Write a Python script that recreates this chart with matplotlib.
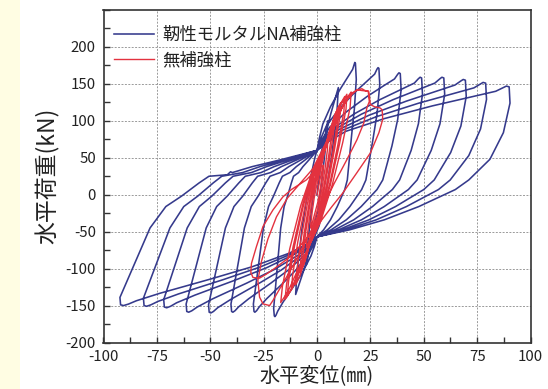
import matplotlib
matplotlib.use('Agg')
import matplotlib.pyplot as plt
from matplotlib.patches import Rectangle
from matplotlib.ticker import MultipleLocator, FixedLocator

plt.rcParams['font.family'] = ['Noto Sans CJK JP', 'DejaVu Sans']
plt.rcParams['axes.unicode_minus'] = False

# ---- data ----
series_names = ['靭性モルタルNA補強柱', '無補強柱']
x_label = '水平変位(㎜)'
y_label = '水平荷重(kN)'
x_ticks = [-100, -75, -50, -25, 0, 25, 50, 75, 100]
y_ticks = [-200, -150, -100, -50, 0, 50, 100, 150, 200]

# reinforced column (blue) – displacement (mm)
blue_x = [
    0, 2, 5, 4.3, 2.5, 0.5, -2, -5, -4.3, -2.5, -0.5,
    3, 6.5, 10, 9.4, 7, 4, 1, -3, -6.5, -10, -9.4, -7, -4, -1, 0,
    # cycle 18 mm
    1.1, 2.7, 6.3, 10.8, 14.4, 16.7, 17.5, 17.7, 18,
    18.4, 17.5, 16.2, 14.2, 13, 9.5, 6.3, 3.1, 0,
    -1.2, -2.8, -6.6, -10.8, -16, -18.4, -19.2, -19.7, -20,
    -20.3, -17, -15.4, -13.8, -12, -11, -8.6, -6.6, -3.8, -1.7, 0,
    # cycle 29 mm
    1.7, 4.4, 10.2, 17.4, 23.2, 27, 28.1, 28.6, 29,
    29.4, 28.1, 26.1, 22.9, 20.9, 15.4, 10.2, 4.9, 0,
    -1.8, -4.1, -9.7, -15.9, -23.6, -27.1, -28.3, -29.1, -29.5,
    -29.8, -25.1, -22.7, -20.4, -17.7, -16.2, -12.7, -9.7, -5.6, -2.6, 0,
    # cycle 39 mm
    2.3, 5.9, 13.7, 23.4, 31.2, 36.3, 37.8, 38.4, 39,
    39.4, 37.8, 35.1, 30.8, 28.1, 20.7, 13.7, 6.6, 0,
    -2.4, -5.6, -13.2, -21.6, -32, -36.8, -38.4, -39.4, -40,
    -40.3, -34, -30.8, -27.6, -24, -22, -17.2, -13.2, -7.6, -3.5, 0,
    # cycle 49 mm
    2.9, 7.4, 17.2, 29.4, 39.2, 45.6, 47.5, 48.3, 49,
    49.4, 47.5, 44.1, 38.7, 35.3, 26, 17.2, 8.3, 0,
    -3, -7.1, -16.7, -27.3, -40.4, -46.5, -48.5, -49.7, -50.5,
    -50.8, -42.9, -38.9, -34.8, -30.3, -27.8, -21.7, -16.7, -9.6, -4.4, 0,
    # cycle 59 mm
    3.6, 8.9, 20.8, 35.6, 47.5, 55.2, 57.6, 58.5, 59.4,
    59.8, 57.6, 53.5, 46.9, 42.8, 31.5, 20.8, 10.1, 0,
    -3.7, -8.5, -20.1, -32.9, -48.8, -56.1, -58.6, -60.1, -61,
    -61.3, -51.9, -47, -42.1, -36.6, -33.6, -26.2, -20.1, -11.6, -5.3, 0,
    # cycle 70 mm
    4.2, 10.4, 24.3, 41.7, 55.6, 64.6, 67.4, 68.5, 69.5,
    69.9, 67.4, 62.6, 54.9, 50, 36.8, 24.3, 11.8, 0,
    -4.3, -10, -23.6, -38.6, -57.2, -65.8, -68.6, -70.4, -71.5,
    -71.8, -60.8, -55.1, -49.3, -42.9, -39.3, -30.7, -23.6, -13.6, -6.2, 0,
    # cycle 79 mm
    4.7, 11.9, 27.7, 47.4, 63.2, 73.5, 76.6, 77.8, 79,
    79.4, 76.6, 71.1, 62.4, 56.9, 41.9, 27.7, 13.4, 0,
    -4.9, -11.3, -26.7, -43.7, -64.8, -74.5, -77.8, -79.8, -81,
    -81.3, -68.9, -62.4, -55.9, -48.6, -44.6, -34.8, -26.7, -15.4, -7, 0,
    # cycle 90 mm
    5.4, 13.5, 31.5, 54, 72, 83.7, 87.3, 88.7, 90,
    90.4, 87.3, 81, 71.1, 64.8, 47.7, 31.5, 15.3, 0,
    -5.5, -12.9, -30.4, -49.7, -73.6, -84.6, -88.3, -90.6, -92,
    -92.3, -78.2, -70.8, -63.5, -55.2, -50.6, -42, -40.5, -39.6, -30.4, -17.5, -8, 0,
]
# reinforced column (blue) – load (kN)
blue_y = [
    0, 45, 100, 72, 25, -20, -48, -95, -65, -18, 25,
    70, 110, 145, 115, 55, 0, -42, -70, -105, -135, -105, -45, 10, 50, 60,
    # cycle 18 mm
    76.5, 95.4, 119, 142.6, 159.1, 169.7, 177, 179, 178,
    156, 116, 80, 20, 7, -16, -34, -47.5, -57,
    -69.8, -82.7, -104.1, -123.3, -145.8, -157.6, -163, -165, -164,
    -154, -45, -16, -2, 16, 25, 30, 38, 47, 54, 60,
    # cycle 29 mm
    75.5, 93.3, 115.5, 137.7, 153.2, 163.2, 170, 172, 171,
    149, 109, 73, 20, 7, -16, -34, -47.5, -57,
    -69.1, -81.2, -101.4, -119.6, -140.8, -152, -157, -159, -158,
    -148, -45, -16, -2, 16, 25, 30, 38, 47, 54, 60,
    # cycle 39 mm
    74.6, 91.2, 112, 132.8, 147.4, 156.7, 163, 165, 164,
    142, 102, 66, 20, 7, -16, -34, -47.5, -57,
    -69.1, -81.2, -101.4, -119.6, -140.8, -152, -157, -159, -158,
    -148, -45, -16, -2, 16, 25, 30, 38, 47, 54, 60,
    # cycle 49 mm
    73.7, 89.4, 109, 128.6, 142.3, 151.1, 157, 159, 158,
    136, 96, 60, 20, 7, -16, -34, -47.5, -57,
    -69.2, -81.5, -101.9, -120.2, -141.7, -152.9, -158, -160, -159,
    -149, -45, -16, -2, 16, 25, 30, 38, 47, 54, 60,
    # cycle 59 mm
    73.7, 89.4, 109, 128.6, 142.3, 151.1, 157, 159, 158,
    136, 96, 60, 20, 7, -16, -34, -47.5, -57,
    -69.1, -81.2, -101.4, -119.6, -140.8, -152, -157, -159, -158,
    -148, -45, -16, -2, 16, 25, 30, 38, 47, 54, 60,
    # cycle 70 mm
    73.3, 88.5, 107.5, 126.5, 139.8, 148.4, 154, 156, 155,
    133, 93, 57, 20, 7, -16, -34, -47.5, -57,
    -68.4, -79.8, -98.8, -115.9, -135.9, -146.3, -151, -153, -152,
    -142, -45, -16, -2, 16, 25, 30, 38, 47, 54, 60,
    # cycle 79 mm
    72.7, 87.3, 105.5, 123.7, 136.4, 144.6, 150, 152, 151,
    129, 89, 53, 20, 7, -16, -34, -47.5, -57,
    -68.2, -79.3, -97.9, -114.7, -134.2, -144.4, -149, -151, -150,
    -140, -45, -16, -2, 16, 25, 30, 38, 47, 54, 60,
    # cycle 90 mm
    72, 85.8, 103, 120.2, 132.2, 140, 145, 147, 146,
    124, 84, 48, 20, 7, -16, -34, -47.5, -57,
    -68, -79, -97.5, -114, -133.4, -143.5, -148, -150, -149,
    -139, -45, -16, -2, 16, 25, 27, 31, 30, 38, 47, 54, 60,
]

# unreinforced column (red) – displacement (mm)
red_x = [
    0, 1.5, 2.6, 3, 2.9, 2.2, 1.3, 0.3, -1.2, -2.4, -3, -2.85, -2.2, -1.3, -0.4,
    2, 4, 5, 4.85, 3.75, 2.25, 0.5, -2, -4, -5, -4.75, -3.75, -2.25, -0.75,
    2.8, 5.6, 7, 6.8, 5.25, 3.15, 0.7, -2.8, -5.6, -7, -6.65, -5.25, -3.15, -1,
    3, 6.4, 8, 7.8, 6, 3.6, 0.8, -3.2, -6.4, -8, -7.6, -6, -3.6, -1.2,
    4, 8, 10, 9.7, 7.5, 4.5, 1, -4, -8, -10, -9.5, -7.5, -4.5, -1.5,
    4.4, 8.8, 11, 10.7, 8.25, 5, 1.1, -4.8, -9.6, -12, -11.4, -9, -5.4, -1.8,
    5.2, 10.4, 13, 12.6, 9.75, 5.85, 1.3, -5.6, -11.2, -14, -13.3, -10.5, -6.3, -2.1,
    5.6, 11.2, 14, 13.6, 10.5, 6.3, 1.4, -6, -12, -15, -14.25, -11.25, -6.75, -2.25,
    6.4, 12.8, 16, 15.5, 12, 7.2, 1.6, -6.8, -13.6, -17, -16.2, -12.75, -7.65, -2.5,
    7, 12, 16, 19, 21, 22.5, 24, 24.5, 23.4, 21.9, 18.75, 14, 8, 3, -3, -10, -16,
    -20.6, -22.2, -25.3, -26.9, -27.7, -26, -23, -19, -14, -8, -2,
    5, 10, 15, 18.75, 21, 24.2, 25, 27, 29.5, 30.5, 30.8, 29, 25, 18.5, 12, 7, 2,
    -5, -13, -20, -24, -27, -30, -31, -30.7, -28.4, -25.3, -20.6, -16, -12, -5, 0,
]
# unreinforced column (red) – load (kN)
red_y = [
    0, 22, 36, 40, 34, 20, 4, -11, -27, -40, -45, -38, -22, -4, 9,
    38, 63, 70, 60, 35, 7, -18, -43, -65, -72, -61, -36, -7, 14,
    52, 85, 95, 81, 48, 10, -25, -60, -90, -100, -85, -50, -10, 19,
    55, 90, 100, 85, 50, 10, -27, -63, -95, -105, -89, -52, -10, 20,
    65, 106, 118, 100, 59, 12, -30, -73, -110, -122, -104, -61, -12, 24,
    68, 111, 124, 105, 62, 12, -32, -77, -115, -128, -109, -64, -13, 25,
    73, 120, 133, 113, 67, 13, -35, -83, -124, -138, -117, -69, -14, 27,
    75, 122, 136, 116, 68, 14, -35, -85, -128, -142, -121, -71, -14, 28,
    78, 126, 139, 118, 70, 14, -37, -88, -131, -146, -124, -73, -15, 29,
    85, 120, 137, 142, 143.5, 141, 140, 126, 118, 97, 74.6, 47.5, 15, -15, -50, -90, -120,
    -143, -150, -147.7, -138.6, -116, -90, -60, -30, -5, 15, 35,
    75, 110, 132, 142, 141, 140, 122, 119, 117.5, 115, 102, 84, 56.5, 29, 2, -16, -35,
    -60, -85, -100, -108, -113, -112, -105, -93, -70.5, -43, -20.5, -3, 7, 20, 35,
]

# ---- figure ----
W, H = 548, 389
fig = plt.figure(figsize=(W / 100, H / 100), dpi=100)
fig.patch.set_facecolor('white')
fig.patches.append(Rectangle((0, 0), 20 / W, 1, transform=fig.transFigure,
                             facecolor='#fffde3', edgecolor='none', zorder=-5))

ax = fig.add_axes([103.5 / W, (H - 342.5) / H, 427 / W, 332.5 / H])
ax.plot(blue_x, blue_y, color='#353a8c', lw=1.15, label=series_names[0], zorder=3)
ax.plot(red_x, red_y, color='#e3323f', lw=1.0, label=series_names[1], zorder=4)

ax.set_xlim(-100, 100)
ax.set_ylim(-200, 250)
ax.xaxis.set_major_locator(FixedLocator(x_ticks))
ax.yaxis.set_major_locator(FixedLocator(y_ticks))
ax.xaxis.set_minor_locator(MultipleLocator(12.5))
ax.yaxis.set_minor_locator(MultipleLocator(25))
ax.set_xticklabels([str(v) for v in x_ticks])
ax.set_yticklabels([str(v) for v in y_ticks])

ax.grid(True, which='major', color='#9a9a9a', ls=(0, (2.0, 1.5)), lw=0.7, zorder=0)
ax.tick_params(which='both', direction='in', length=4, width=1.0, color='#333333',
               top=False, right=False)
ax.tick_params(which='major', labelsize=10.8, pad=5.5, labelcolor='#222222')
for s in ax.spines.values():
    s.set_color('#333333')
    s.set_linewidth(1.2)

ax.set_xlabel(x_label, fontsize=14.5, labelpad=1, color='#222222')
ax.set_ylabel(y_label, fontsize=16.5, labelpad=4, color='#222222')

leg = ax.legend(loc='upper left', bbox_to_anchor=(-0.012, 1.0), frameon=False,
                fontsize=12.5, handlelength=2.3, handletextpad=0.5,
                labelspacing=0.45, borderaxespad=0.5)
for t in leg.get_texts():
    t.set_color('#222222')

fig.savefig('out.png', dpi=100)
